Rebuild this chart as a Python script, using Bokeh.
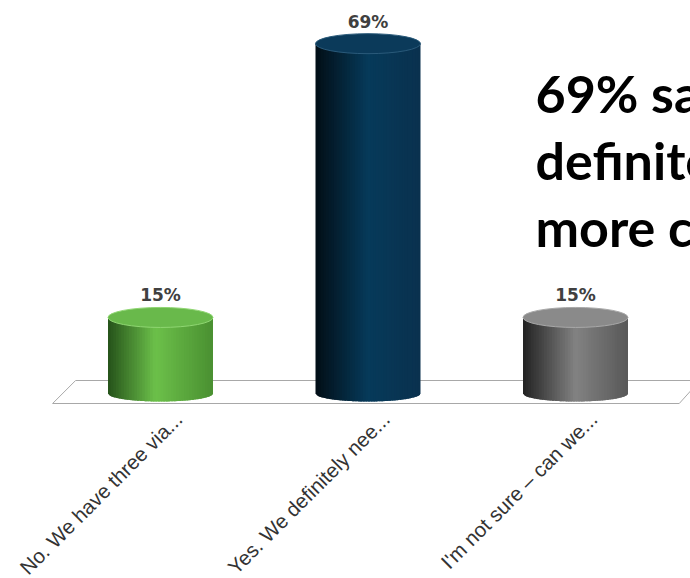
import numpy as np
from bokeh.plotting import figure
from bokeh.models import Range1d, ColumnDataSource
from bokeh.core.properties import value
from bokeh.embed import file_html
from bokeh.resources import INLINE

# ---------------- data ----------------
categories = ["No. We have three via...", "Yes. We definitely nee...", "I'm not sure – can we..."]
values = [15, 69, 15]
value_labels = ["15%", "69%", "15%"]
headline = ["69% say we", "definitely need", "more clarity"]

# ---------------- layout (pixels) ----------------
W, H = 690, 578
PX_X = 207.5     # pixels per category step
X0_PX = 160      # pixel x of first category
BASE_PX = 393    # pixel y (from top) of the zero line
PX_Y = 5.07      # pixels per percent

def dx(px):
    return px / PX_X

def dy(px):
    return px / PX_Y

def ypix(px_from_top):
    return (BASE_PX - px_from_top) / PX_Y

def xpix(px):
    return (px - X0_PX) / PX_X

p = figure(width=W, height=H, output_backend="svg", toolbar_location=None,
           x_axis_type=None, y_axis_type=None, min_border=0,
           x_range=Range1d(xpix(0), xpix(W)), y_range=Range1d(ypix(H), ypix(0)))
p.grid.visible = False
p.outline_line_color = None
p.background_fill_color = "white"
p.border_fill_color = "white"

n = len(categories)
xs = np.arange(n)

# ---------------- floor ----------------
floor_front = ypix(403)
floor_back = ypix(380)
fl = -0.52
p.patch([fl, fl + dx(23), n - 1 + 0.6, n - 1 + 0.5], [floor_front, floor_back, floor_back, floor_front],
        fill_color="white", line_color="#a8a8a8", line_width=1)

# ---------------- cylinders ----------------
bar_w = dx(105)
top_h = dy(10)
bot_h = dy(8)

grads = [
    [(0.0, (0x25, 0x52, 0x1a)), (0.45, (0x6c, 0xc0, 0x4a)), (1.0, (0x4a, 0x90, 0x31))],
    [(0.0, (0x02, 0x0e, 0x16)), (0.5, (0x06, 0x3a, 0x5a)), (1.0, (0x0a, 0x31, 0x4e))],
    [(0.0, (0x22, 0x22, 0x22)), (0.5, (0x82, 0x82, 0x82)), (1.0, (0x58, 0x58, 0x58))],
]
top_colors = ["#69b94b", "#0b3a5a", "#8a8a8a"]
rim_colors = ["#8fd672", "#2a5a7a", "#a8a8a8"]

def interp(stops, t):
    for (t0, c0), (t1, c1) in zip(stops[:-1], stops[1:]):
        if t <= t1:
            f = (t - t0) / (t1 - t0) if t1 > t0 else 0
            c = [int(round(a + (b - a) * f)) for a, b in zip(c0, c1)]
            return "#%02x%02x%02x" % tuple(c)
    return "#%02x%02x%02x" % stops[-1][1]

NS = 40
strip_xs, strip_ys, strip_cols = [], [], []
for i, (cx, v) in enumerate(zip(xs, values)):
    left = cx - bar_w / 2
    right = cx + bar_w / 2
    sw = bar_w / NS
    for k in range(NS):
        a = left + k * sw
        b = min(right, a + sw * 1.8)   # overlap the next strip to hide seams
        pts_x = np.linspace(a, b, 4)
        u = (pts_x - cx) / (bar_w / 2)
        ybot = -bot_h * np.sqrt(np.clip(1 - u * u, 0, None))
        strip_xs.append(list(pts_x) + [b, a])
        strip_ys.append(list(ybot) + [v, v])
        strip_cols.append(interp(grads[i], (k + 0.5) / NS))

p.patches(xs=strip_xs, ys=strip_ys, fill_color=strip_cols, line_color=None)

top_src = ColumnDataSource(dict(x=xs, y=values, c=top_colors, r=rim_colors))
p.ellipse(x="x", y="y", width=bar_w, height=2 * top_h, fill_color="c", line_color="r",
          line_width=1, source=top_src)

# ---------------- value labels ----------------
lab_src = ColumnDataSource(dict(x=xs, y=[v + dy(22) for v in values], t=value_labels))
p.text(x="x", y="y", text="t", source=lab_src, text_align="center", text_baseline="alphabetic",
       text_font=value("DejaVu Sans"), text_font_style="bold", text_font_size="17px",
       text_color="#404040")

# ---------------- category labels ----------------
cat_src = ColumnDataSource(dict(x=[c + dx(18) for c in xs], y=[ypix(415)] * n, t=categories))
p.text(x="x", y="y", text="t", source=cat_src, angle=np.deg2rad(45), text_align="right",
       text_baseline="middle", text_font=value("Liberation Sans"), text_font_size="20.5px",
       text_color="#333333")

# ---------------- headline ----------------
hl_src = ColumnDataSource(dict(x=[xpix(535)] * 3, y=[ypix(92), ypix(159), ypix(226)], t=headline))
p.text(x="x", y="y", text="t", source=hl_src, text_align="left", text_baseline="alphabetic",
       text_font=value("Lato"), text_font_style="bold", text_font_size="52px", text_color="#000000")

open("out.html", "w").write(file_html(p, INLINE))
